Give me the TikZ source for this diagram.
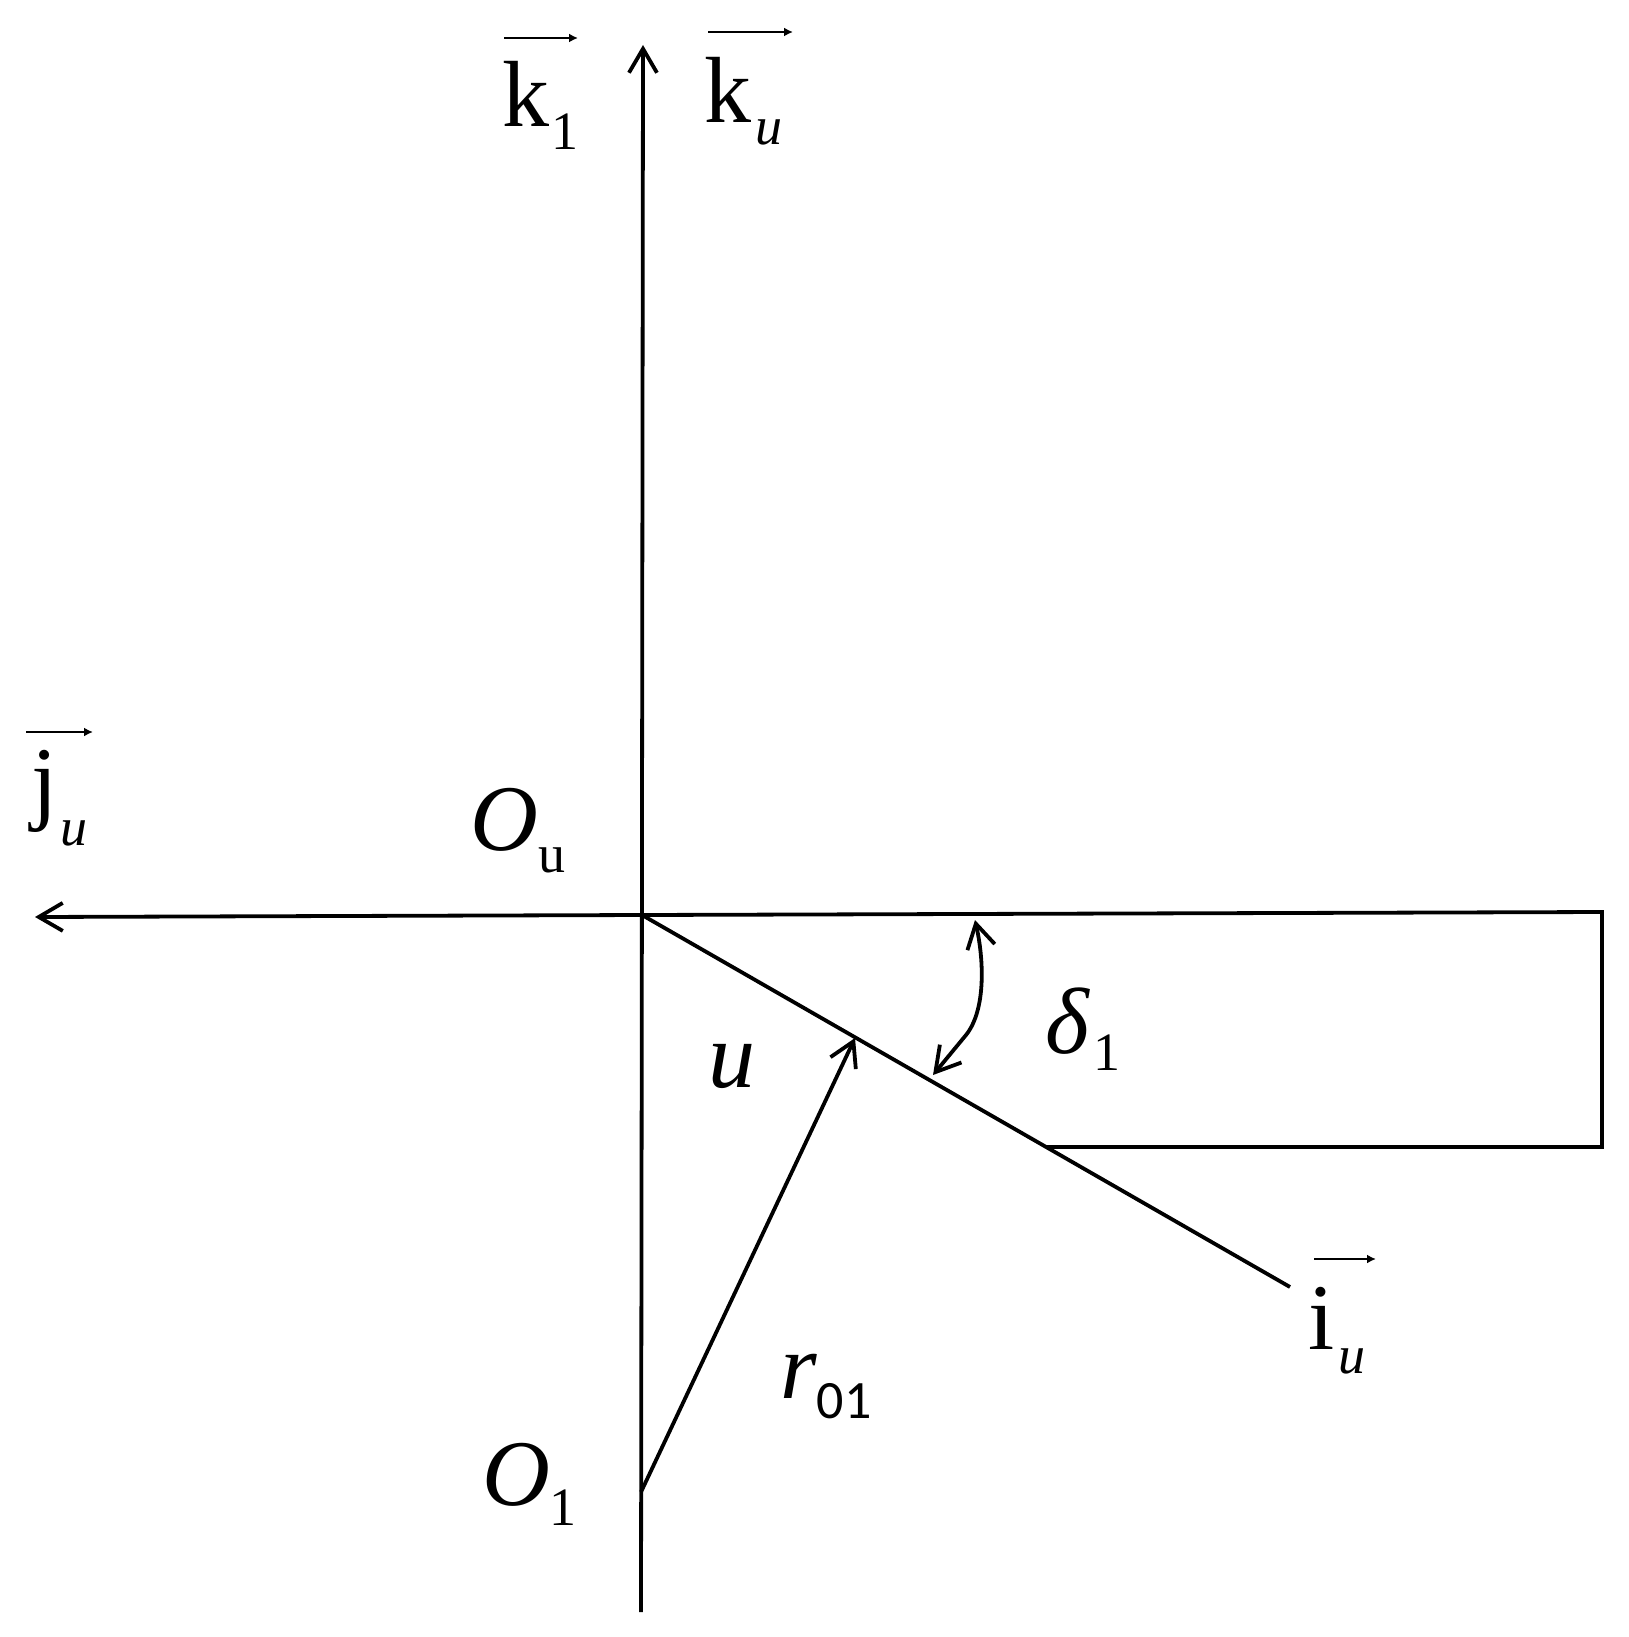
\documentclass[tikz,border=0pt]{standalone}
\usepackage{fontspec}
\setmainfont{Liberation Serif}
\newfontfamily\calfont{Carlito}
\usetikzlibrary{arrows.meta}
\newcommand\SubT[2]{\raisebox{-#1}{\fontsize{27}{27}\selectfont #2}}
\begin{document}
\begin{tikzpicture}[x=0.5pt,y=-0.5pt,
  ln/.style={line width=1.9pt},
  barb/.style={ln,-{Straight Barb[length=12pt,width=14pt,line width=1.9pt]}},
  dbarb/.style={ln,{Straight Barb[length=12pt,width=14pt,line width=1.9pt]}-{Straight Barb[length=12pt,width=14pt,line width=1.9pt]}},
  ovec/.style={line width=1.1pt,-{Latex[length=4.5pt,width=4.5pt]}},
  lbl/.style={anchor=base west,inner sep=0pt,outer sep=0pt,font=\fontsize{47}{50}\selectfont}]
\useasboundingbox (0,0) rectangle (1628,1637);
% points
\coordinate (Ou) at (642,915);
\coordinate (Ktip) at (643,45);
\coordinate (Vbot) at (641,1612);
\coordinate (Jtip) at (35,917);
\coordinate (R1) at (1602,912);
\coordinate (R2) at (1602,1147);
\coordinate (R3) at (1047,1147);
\coordinate (Iend) at (1290,1287);
\coordinate (O1) at (641,1492);
\coordinate (Rtip) at (855,1038);
\coordinate (A1) at (975,920);
\coordinate (A2) at (933,1075);
% axes
\draw[barb] (Vbot) -- (Ktip);
\draw[barb] (Ou) -- (Jtip);
\draw[ln] (Ou) -- (R1) -- (R2) -- (R3);
\draw[ln] (Ou) -- (Iend);
\draw[barb] (O1) -- (Rtip);
\draw[dbarb] (A1) .. controls (984,960) and (986,1010) .. (966,1035) -- (A2);
% labels
\node[lbl] (k1) at (502,127) {k\kern1pt\SubT{11.5pt}{1}};
\coordinate (k1a) at (504,38); \coordinate (k1b) at (578,38);
\draw[ovec] (k1a) -- (k1b);
\node[lbl] (ku) at (704,123) {k\kern2pt\SubT{11pt}{\textit{u}}};
\coordinate (kua) at (708,32); \coordinate (kub) at (793,32);
\draw[ovec] (kua) -- (kub);
\node[lbl] (ju) at (32,812) {j\kern1pt\SubT{16.5pt}{\textit{u}}};
\coordinate (jua) at (26,732); \coordinate (jub) at (93,732);
\draw[ovec] (jua) -- (jub);
\node[lbl] (Oul) at (470,850) {\textit{O}\kern0.5pt\SubT{11pt}{u}};
\node[lbl] (O1l) at (482,1505) {\textit{O}\SubT{10pt}{1}};
\node[lbl] (dl) at (1045,1053) {\textit{δ}\kern2pt\SubT{8.5pt}{1}};
\node[lbl] (ul) at (708,1087) {\textit{u}};
\node[lbl] (rl) at (780,1398) {\textit{r}\SubT{10pt}{\calfont 01}};
\node[lbl] (iu) at (1308,1349) {i\kern2pt\SubT{12pt}{\textit{u}}};
\coordinate (iua) at (1314,1259); \coordinate (iub) at (1376,1259);
\draw[ovec] (iua) -- (iub);
\end{tikzpicture}
\end{document}
